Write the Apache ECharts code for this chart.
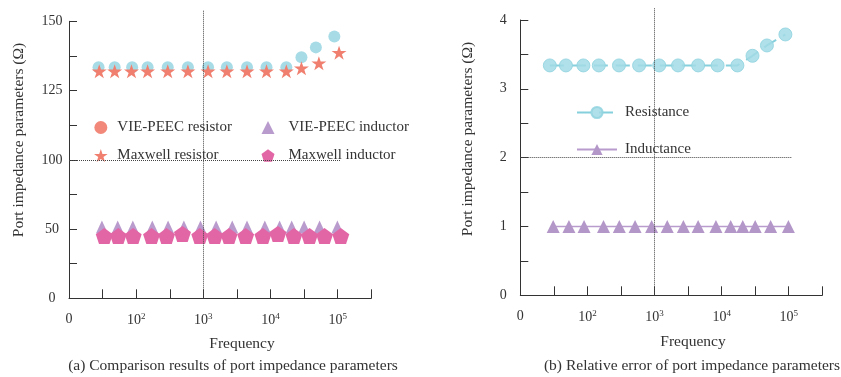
<!DOCTYPE html>
<html>
<head>
<meta charset="utf-8">
<script src="https://cdn.jsdelivr.net/npm/echarts@6/dist/echarts.min.js"></script>
<style>html,body{margin:0;padding:0;background:#fff;}#c{width:841px;height:377px;}</style>
</head>
<body>
<div id="c"></div>
<script>
// ---- data (frequency stored as log10 of Hz) ----
const logFreqResCircle = [1.44, 1.68, 1.94, 2.17, 2.47, 2.77, 3.07, 3.35, 3.65, 3.94, 4.235, 4.46, 4.675, 4.95];
const logFreqResStar   = [1.45, 1.68, 1.93, 2.17, 2.47, 2.77, 3.07, 3.35, 3.65, 3.94, 4.235, 4.46, 4.72, 5.02];
const logFreqIndTri    = [1.49, 1.725, 1.95, 2.24, 2.475, 2.71, 2.957, 3.19, 3.43, 3.65, 3.915, 4.135, 4.315, 4.5, 4.73, 4.995];
const logFreqIndPent   = [1.525, 1.733, 1.955, 2.229, 2.452, 2.689, 2.947, 3.169, 3.382, 3.63, 3.887, 4.11, 4.348, 4.581, 4.804, 5.046];

const viePeecResistor  = [133.4, 133.4, 133.4, 133.4, 133.4, 133.4, 133.4, 133.4, 133.4, 133.4, 133.4, 137.0, 140.6, 144.5];
const maxwellResistor  = [132.0, 132.0, 132.0, 132.0, 132.0, 132.0, 132.0, 132.0, 132.0, 132.0, 132.0, 133.1, 134.9, 138.7];
const viePeecInductor  = [51.5, 51.5, 51.5, 51.5, 51.5, 51.5, 51.5, 51.5, 51.5, 51.5, 51.5, 51.5, 51.5, 51.5, 51.5, 51.5];
const maxwellInductor  = [45, 45, 45, 45, 45, 46.5, 45, 45, 45, 45, 45, 46.5, 45, 45, 45, 45];

const relErrResistance = [3.34, 3.34, 3.34, 3.34, 3.34, 3.34, 3.34, 3.34, 3.34, 3.34, 3.34, 3.48, 3.63, 3.79];
const relErrInductance = [1.0, 1.0, 1.0, 1.0, 1.0, 1.0, 1.0, 1.0, 1.0, 1.0, 1.0, 1.0, 1.0, 1.0, 1.0, 1.0];

const xDecadeExponents = [2, 3, 4, 5];
const xOriginLabel = '0';
const yLabelsA = [0, 50, 100, 125, 150];
const yLabelsB = [0, 1, 2, 3, 4];

const refLineFreq = 3;      // vertical dotted reference at 10^3
const refLineEnd = 5.04;
const refLevelA = 100;
const refLevelB = 2;

// ---- styles ----
const FONT = 'Liberation Serif';
const TXT = '#333';
const STAR = 'path://M0,-100L22.45,-30.9L95.1,-30.9L36.33,11.8L58.78,80.9L0,38.2L-58.78,80.9L-36.33,11.8L-95.1,-30.9L-22.45,-30.9Z';
const PENT = 'path://M0,-100L95.1,-30.9L58.78,80.9L-58.78,80.9L-95.1,-30.9Z';
const zip = (xs, ys) => xs.map((x, i) => [x, ys[i]]);
const near = (a, b) => Math.abs(a - b) < 1e-6;

function xFmt(v) {
  if (near(v, 1)) return xOriginLabel;
  for (const e of xDecadeExponents) if (near(v, e)) return '{b|10}{s|' + e + '}';
  return '';
}
const xLabelStyle = {
  formatter: xFmt, margin: 14, color: TXT, fontFamily: FONT, fontSize: 14,
  showMinLabel: true, showMaxLabel: true,
  rich: {
    b: { fontFamily: FONT, fontSize: 14, color: TXT, verticalAlign: 'bottom' },
    s: { fontFamily: FONT, fontSize: 9, color: TXT, verticalAlign: 'top', padding: [0, 0, 6, 0] }
  }
};
const axisLine = { show: true, lineStyle: { color: '#333', width: 1 } };
const axisTick = { show: true, inside: true, length: 8, lineStyle: { color: '#333' } };
function yFmt(list) {
  return v => list.some(l => near(l, v)) ? String(v) : '';
}
const yLabel = list => ({ formatter: yFmt(list), margin: 17, align: 'center', color: TXT, fontFamily: FONT, fontSize: 14 });

const dotted = { type: 'dotted', color: '#444', width: 1 };
function mLine(pairs) {
  return {
    silent: true, symbol: ['none', 'none'], label: { show: false }, animation: false,
    lineStyle: dotted, emphasis: { disabled: true },
    data: pairs.map(p => [{ coord: p[0] }, { coord: p[1] }])
  };
}
const legendText = { fontFamily: FONT, fontSize: 15, color: TXT };
const TFONT = '15.5px "Liberation Serif"';

const chart = echarts.init(document.getElementById('c'), null, { renderer: 'canvas' });
chart.setOption({
  animation: false,
  backgroundColor: '#fff',
  textStyle: { fontFamily: FONT },
  grid: [
    { left: 69, top: 21.3, width: 302.3, height: 138.7 },   // (a) upper part 100-150
    { left: 69, top: 160, width: 302.3, height: 138.3 },    // (a) lower part 0-100
    { left: 520.3, top: 20, width: 302, height: 275.3 },    // (b)
    { left: 69, top: 10, width: 302.3, height: 288.3 },     // (a) ref overlay
    { left: 520.3, top: 8, width: 302, height: 287.3 }      // (b) ref overlay
  ],
  xAxis: [
    { gridIndex: 0, type: 'value', min: 1, max: 5.5, interval: 0.5, show: false },
    { gridIndex: 1, type: 'value', min: 1, max: 5.5, interval: 0.5, axisLine, axisTick: Object.assign({}, axisTick, { length: 9 }), splitLine: { show: false }, axisLabel: xLabelStyle },
    { gridIndex: 2, type: 'value', min: 1, max: 5.5, interval: 0.5, axisLine, axisTick: Object.assign({}, axisTick, { length: 9 }), splitLine: { show: false }, axisLabel: xLabelStyle },
    { gridIndex: 3, type: 'value', min: 1, max: 5.5, show: false },
    { gridIndex: 4, type: 'value', min: 1, max: 5.5, show: false }
  ],
  yAxis: [
    { gridIndex: 0, type: 'value', min: 100, max: 150, interval: 12.5, axisLine, axisTick, splitLine: { show: false }, axisLabel: yLabel(yLabelsA.filter(v => v > 100)) },
    { gridIndex: 1, type: 'value', min: 0, max: 100, interval: 25, axisLine, axisTick, splitLine: { show: false }, axisLabel: yLabel(yLabelsA.filter(v => v <= 100)) },
    { gridIndex: 2, type: 'value', min: 0, max: 4, interval: 0.5, axisLine, axisTick, splitLine: { show: false }, axisLabel: yLabel(yLabelsB) },
    { gridIndex: 3, type: 'value', min: 0, max: 1, show: false },
    { gridIndex: 4, type: 'value', min: 0, max: 1, show: false }
  ],
  legend: [
    {
      data: [{ name: 'VIE-PEEC resistor', itemStyle: { color: '#f2887a', opacity: 1 } }, { name: 'Maxwell resistor' }],
      orient: 'vertical', left: 94, top: 120, padding: 0, itemGap: 13, itemWidth: 23, itemHeight: 13,
      textStyle: legendText, selectedMode: false
    },
    {
      data: ['VIE-PEEC inductor', 'Maxwell inductor'],
      orient: 'vertical', left: 261.5, top: 120, padding: 0, itemGap: 13, itemWidth: 13, itemHeight: 13,
      textStyle: Object.assign({ padding: [0, 0, 0, 9] }, legendText), selectedMode: false
    },
    {
      data: ['Resistance', 'Inductance'],
      orient: 'vertical', left: 576, top: 105, padding: 0, itemGap: 22, itemWidth: 40, itemHeight: 14,
      textStyle: Object.assign({ padding: [0, 0, 0, 3] }, legendText), selectedMode: false
    }
  ],
  series: [
    { name: 'VIE-PEEC resistor', type: 'scatter', xAxisIndex: 0, yAxisIndex: 0, clip: false,
      data: zip(logFreqResCircle, viePeecResistor), symbol: 'circle', symbolSize: 12,
      itemStyle: { color: '#a7dce7', opacity: 1 }, z: 2 },
    { name: 'Maxwell resistor', type: 'scatter', xAxisIndex: 0, yAxisIndex: 0, clip: false,
      data: zip(logFreqResStar, maxwellResistor), symbol: STAR, symbolSize: [15, 14],
      itemStyle: { color: '#f07f6f', opacity: 1 }, z: 3 },
    { name: 'VIE-PEEC inductor', type: 'scatter', xAxisIndex: 1, yAxisIndex: 1, clip: false,
      data: zip(logFreqIndTri, viePeecInductor), symbol: 'triangle', symbolSize: [12, 13],
      itemStyle: { color: '#b99bcd', opacity: 1 }, z: 2,
      markLine: mLine([[[1, refLevelA], [refLineEnd, refLevelA]]]) },
    { name: 'Maxwell inductor', type: 'scatter', xAxisIndex: 1, yAxisIndex: 1, clip: false,
      data: zip(logFreqIndPent, maxwellInductor), symbol: PENT, symbolSize: [17, 16],
      itemStyle: { color: '#e265a5', opacity: 1 }, z: 3 },
    { name: 'refA', type: 'line', xAxisIndex: 3, yAxisIndex: 3, data: [], silent: true,
      markLine: mLine([[[refLineFreq, 0], [refLineFreq, 1]]]) },
    { name: 'Resistance', type: 'line', xAxisIndex: 2, yAxisIndex: 2, clip: false,
      data: zip(logFreqResCircle, relErrResistance), symbol: 'circle', symbolSize: 13, showAllSymbol: true,
      lineStyle: { color: '#86cfdc', width: 2, type: [14, 8] },
      itemStyle: { color: '#a2dae5', opacity: 0.85, borderColor: '#90d3df', borderWidth: 1 }, z: 3,
      markLine: mLine([[[1, refLevelB], [refLineEnd, refLevelB]]]) },
    { name: 'Inductance', type: 'line', xAxisIndex: 2, yAxisIndex: 2, clip: false,
      data: zip(logFreqIndTri, relErrInductance), symbol: 'triangle', symbolSize: 13, showAllSymbol: true,
      lineStyle: { color: '#b99bcd', width: 1.5 },
      itemStyle: { color: '#b497c9', opacity: 1 }, z: 3 },
    { name: 'refB', type: 'line', xAxisIndex: 4, yAxisIndex: 4, data: [], silent: true,
      markLine: mLine([[[refLineFreq, 0], [refLineFreq, 1]]]) }
  ],
  graphic: [
    { type: 'text', x: 19, y: 140, rotation: Math.PI / 2, style: { text: 'Port impedance parameters (Ω)', font: TFONT, fill: TXT, align: 'center', verticalAlign: 'middle' } },
    { type: 'text', x: 468, y: 139, rotation: Math.PI / 2, style: { text: 'Port impedance parameters (Ω)', font: TFONT, fill: TXT, align: 'center', verticalAlign: 'middle' } },
    { type: 'text', x: 242, y: 344, style: { text: 'Frequency', font: TFONT, fill: TXT, align: 'center', verticalAlign: 'middle' } },
    { type: 'text', x: 693, y: 342, style: { text: 'Frequency', font: TFONT, fill: TXT, align: 'center', verticalAlign: 'middle' } },
    { type: 'text', x: 233, y: 366, style: { text: '(a) Comparison results of port impedance parameters', font: TFONT, fill: TXT, align: 'center', verticalAlign: 'middle' } },
    { type: 'text', x: 692, y: 366, style: { text: '(b) Relative error of port impedance parameters', font: TFONT, fill: TXT, align: 'center', verticalAlign: 'middle' } }
  ]
});
</script>
</body>
</html>
